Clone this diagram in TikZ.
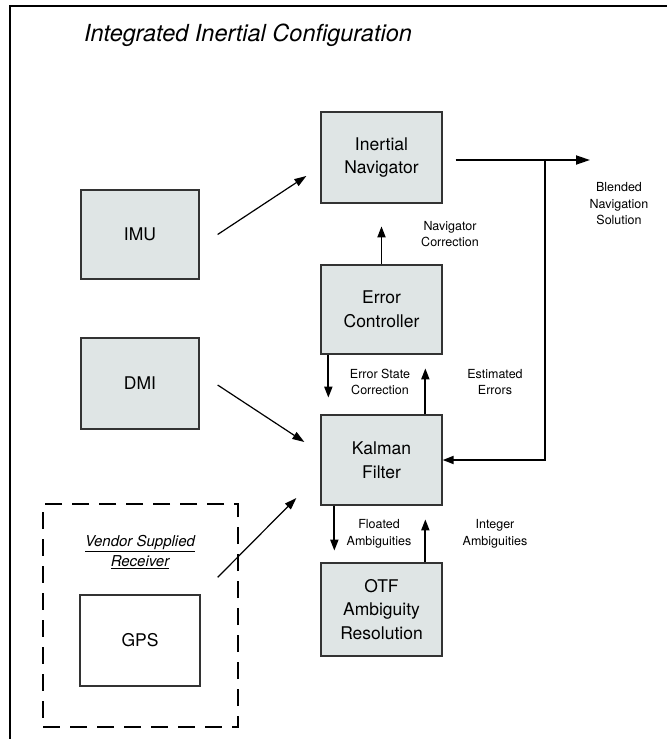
\documentclass[tikz,border=0pt]{standalone}
\usepackage{fontspec}
\setmainfont{TeX Gyre Heros}
\usetikzlibrary{arrows.meta,calc}
\definecolor{boxgray}{HTML}{DFE5E5}
\definecolor{edgegray}{HTML}{333333}
\begin{document}
\begin{tikzpicture}[x=1pt,y=-1pt,
  blk/.style={draw=edgegray,line width=1.3pt,fill=boxgray,minimum width=121pt,
    minimum height=90pt,inner sep=0pt,align=center,font=\fontsize{17.5}{23.5}\selectfont},
  lbl/.style={align=center,inner sep=0pt,font=\fontsize{12.5}{16.5}\selectfont},
  flow/.style={line width=1.8pt,-{Triangle[length=11pt,width=8pt]}},
  feed/.style={line width=1.2pt,-{Triangle[length=12pt,width=8pt]}}]
\useasboundingbox (0,0) rectangle (667,739);

% page frame: top and left rules
\draw[line width=2.5pt] (10,739) -- (10,6) -- (667,6);

\node[font=\fontsize{23.5}{28}\selectfont\itshape] (title) at (248,35)
  {Integrated Inertial Configuration};

% processing blocks
\node[blk,minimum height=91pt] (nav) at (381.5,157.5) {Inertial\\Navigator};
\node[blk,minimum height=89pt] (err) at (381.5,309.5) {Error\\Controller};
\node[blk] (kal) at (381.5,460) {Kalman\\Filter};
\node[blk,minimum height=93pt] (otf) at (381.5,609.5) {OTF\\Ambiguity\\Resolution};

% sensors
\node[blk,minimum width=118pt,minimum height=89pt] (imu) at (140,234.5) {IMU};
\node[blk,minimum width=118pt,minimum height=91pt] (dmi) at (140,383.5) {DMI};

% receiver group
\node[draw,line width=2.3pt,dash pattern=on 17pt off 10pt,minimum width=195pt,
  minimum height=223pt,inner sep=0pt] (vendor) at (140.5,615.5) {};
\node[lbl,font=\fontsize{15}{20}\selectfont\itshape] (vtext) at (140,552)
  {\underline{Vendor Supplied}\\\underline{Receiver}};
\node[blk,fill=white,minimum width=120pt,minimum height=91pt] (gps) at (140,640.5) {GPS};

% sensor inputs
\draw[feed] ($(imu.east)+(18,0)$) -- ($(nav.west)+(-14,18.5)$);
\draw[feed] ($(dmi.east)+(18,1.5)$) -- ($(kal.west)+(-16,-18)$);
\draw[feed] ($(gps.north east)+(17,-17)$) -- ($(kal.west)+(-24,38)$);

% blended output and error feedback
\coordinate (tap) at (545,160);
\coordinate (out) at (590,160);
\draw[line width=1.8pt,-{Triangle[length=14pt,width=9pt]}] ($(nav.east)+(13,2.5)$) -- (out);
\draw[flow] (tap) |- (kal.east);
\node[lbl] (blend) at (619,204) {Blended\\Navigation\\Solution};

% vertical links between blocks
\coordinate (navcor) at ($(err.north)+(0,-38)$);
\draw[flow] (err.north) -- (navcor);
\node[lbl] (navlbl) at (450,234) {Navigator\\Correction};

\coordinate (escor) at ($(err.south west)+(8,43)$);
\draw[flow] ($(err.south west)+(8,0)$) -- (escor);
\node[lbl] (eslbl) at (380,382) {Error State\\Correction};

\coordinate (esterr) at ($(kal.north west)+(105,-46)$);
\draw[flow] ($(kal.north west)+(105,0)$) -- (esterr);
\node[lbl] (estlbl) at (495,382) {Estimated\\Errors};

\coordinate (flt) at ($(kal.south west)+(14,45)$);
\draw[flow] ($(kal.south west)+(14,0)$) -- (flt);
\node[lbl] (fltlbl) at (379,534) {Floated\\Ambiguities};

\coordinate (intg) at ($(otf.north west)+(105,-43)$);
\draw[flow] ($(otf.north west)+(105,0)$) -- (intg);
\node[lbl] (intlbl) at (495,534) {Integer\\Ambiguities};
\end{tikzpicture}
\end{document}
